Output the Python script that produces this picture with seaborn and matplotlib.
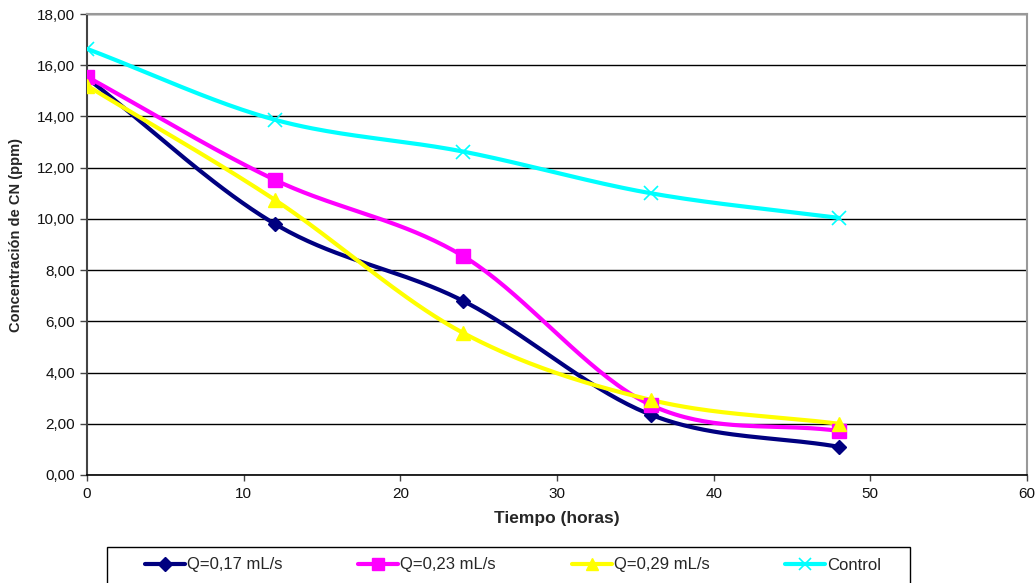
import numpy as np
import pandas as pd
import matplotlib
matplotlib.use("Agg")
import matplotlib.pyplot as plt
import seaborn as sns
from matplotlib.lines import Line2D
from matplotlib.patches import Rectangle

sns.set_theme(style="white")
plt.rcParams["font.family"] = ["Liberation Sans", "DejaVu Sans"]

# Sampling times (hours)
tiempo = [0, 12, 24, 36, 48]

# Cyanide concentration (ppm) per treatment
q017 = [15.50, 9.80, 6.80, 2.35, 1.10]
q023 = [15.55, 11.52, 8.55, 2.73, 1.72]
q029 = [15.20, 10.74, 5.55, 2.93, 2.00]
control = [16.64, 13.87, 12.63, 11.00, 10.04]

series_names = ["Q=0,17 mL/s", "Q=0,23 mL/s", "Q=0,29 mL/s", "Control"]
series_values = [q017, q023, q029, control]
colors = ["#000080", "#FF00FF", "#FFFF00", "#00FFFF"]
markers = ["D", "s", "^", "x"]
marker_sizes = [7, 10, 10, 10]

y_ticks = np.arange(0, 18.1, 2)
x_ticks = np.arange(0, 61, 10)


def smooth_curve(x, y, n=40):
    """Catmull-Rom style smoothing through the points (spreadsheet smoothed line)."""
    x = np.asarray(x, float)
    y = np.asarray(y, float)
    px = np.concatenate([[2 * x[0] - x[1]], x, [2 * x[-1] - x[-2]]])
    py = np.concatenate([[2 * y[0] - y[1]], y, [2 * y[-1] - y[-2]]])
    xs, ys = [], []
    for i in range(1, len(px) - 2):
        t = np.linspace(0, 1, n, endpoint=(i == len(px) - 3))
        p0, p1, p2, p3 = (np.array([px[j], py[j]]) for j in range(i - 1, i + 3))
        b1 = p1 + (p2 - p0) / 6
        b2 = p2 - (p3 - p1) / 6
        tt = t[:, None]
        pts = ((1 - tt) ** 3) * p1 + 3 * ((1 - tt) ** 2) * tt * b1 + 3 * (1 - tt) * tt ** 2 * b2 + tt ** 3 * p2
        xs.append(pts[:, 0])
        ys.append(pts[:, 1])
    return np.concatenate(xs), np.concatenate(ys)


W, H = 1036, 583
fig = plt.figure(figsize=(W / 100, H / 100), dpi=100)
ax = fig.add_axes([87 / W, 1 - 475 / H, (1027 - 87) / W, (475 - 14) / H])

for name, vals, c, m, ms in zip(series_names, series_values, colors, markers, marker_sizes):
    sx, sy = smooth_curve(tiempo, vals)
    smooth_df = pd.DataFrame({"t": sx, "v": sy})
    sns.lineplot(data=smooth_df, x="t", y="v", ax=ax, color=c, lw=3, sort=False,
                 estimator=None, zorder=3)
    if m == "x":
        ax.plot(tiempo, vals, ls="none", marker=m, ms=ms, mew=1.2, color=c, zorder=4)
    else:
        ax.plot(tiempo, vals, ls="none", marker=m, ms=ms, color=c, mec=c, zorder=4)

ax.set_xlim(0, 60)
ax.set_ylim(0, 18)
ax.set_xticks(x_ticks)
ax.set_xticklabels([str(v) for v in x_ticks])
ax.set_yticks(y_ticks)
ax.set_yticklabels([f"{v:.2f}".replace(".", ",") for v in y_ticks])

ax.grid(axis="y", color="black", lw=1)
ax.grid(axis="x", visible=False)
ax.set_axisbelow(True)

for side in ["top", "right"]:
    ax.spines[side].set_visible(True)
    ax.spines[side].set_color("#999999")
    ax.spines[side].set_linewidth(1.5)
ax.spines["left"].set_color("#444444")
ax.spines["left"].set_linewidth(1.5)
ax.spines["bottom"].set_color("black")
ax.spines["bottom"].set_linewidth(1.2)

ax.tick_params(axis="both", which="major", direction="out", length=5, width=1,
               color="#444444", labelsize=11, labelcolor="#111111", bottom=True, left=True)
ax.tick_params(axis="x", pad=5, length=4)

ax.set_xlabel("Tiempo (horas)", fontsize=12.5, fontweight="bold", labelpad=7)
ax.set_ylabel("Concentración de CN (ppm)", fontsize=10.5, fontweight="bold")
ax.yaxis.set_label_coords(-0.068, 0.52)

# Legend box along the bottom edge
fig.patches.append(Rectangle((107 / W, -0.01), (910 - 107) / W, 1 - 547 / H + 0.01,
                             transform=fig.transFigure, facecolor="white",
                             edgecolor="black", lw=1, zorder=1))

handles = [
    Line2D([0], [0], color=c, lw=3, marker=m, ms=(7 if m == "D" else 8),
           mew=(1.2 if m == "x" else 1), mec=c)
    for c, m in zip(colors, markers)
]
leg = fig.legend(handles, series_names, loc="center left",
                 bbox_to_anchor=(145 / W, 1 - 565 / H),
                 ncol=4, frameon=False, fontsize=12, borderpad=0, borderaxespad=0,
                 handlelength=2.4, handletextpad=0.12, columnspacing=4.55)
leg.set_zorder(5)

fig.savefig("out.png", dpi=100)
